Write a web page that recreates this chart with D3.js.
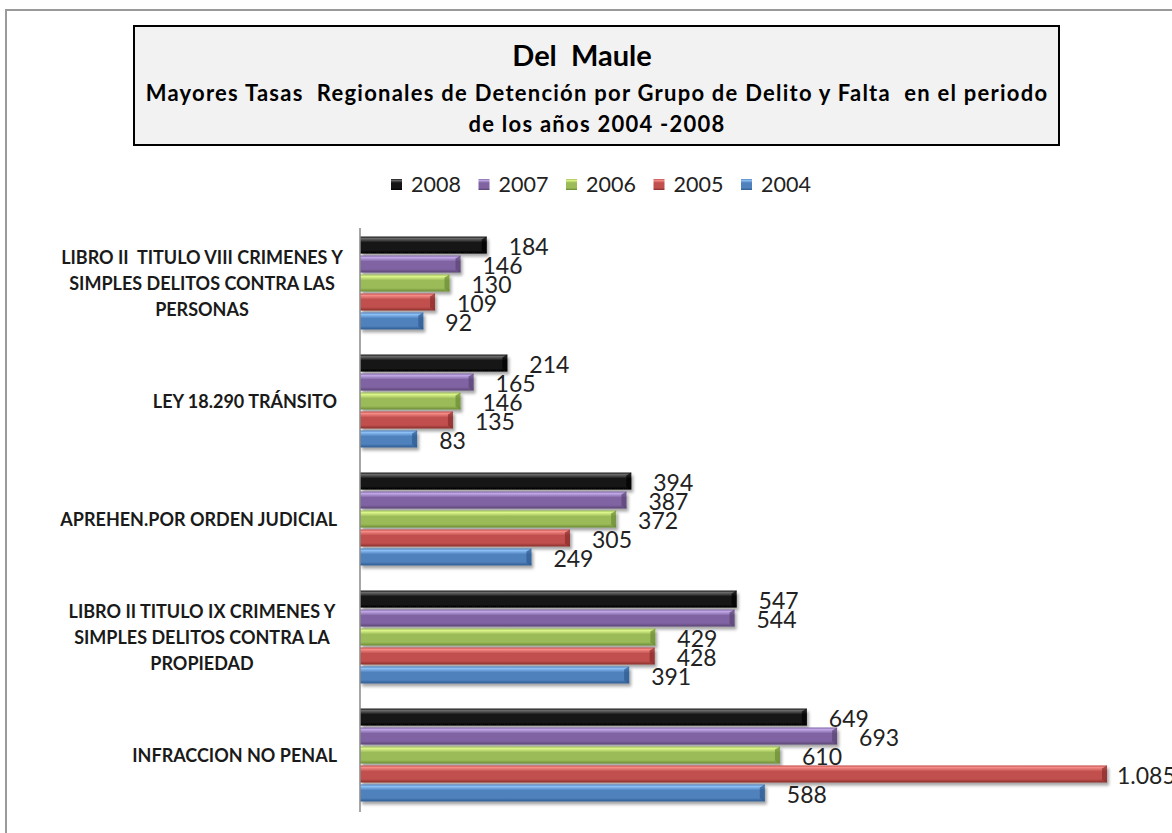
<!DOCTYPE html>
<html>
<head>
<meta charset="utf-8">
<script src="https://cdn.jsdelivr.net/npm/d3@7"></script>
<style>
  body { margin: 0; background: #fff; }
  svg { display: block; }
</style>
</head>
<body>
<div id="chart"></div>
<script>
// 1: DATA
const categories = [
    ["LIBRO II  TITULO VIII CRIMENES Y", "SIMPLES DELITOS CONTRA LAS", "PERSONAS"],
    ["LEY 18.290 TRÁNSITO"],
    ["APREHEN.POR ORDEN JUDICIAL"],
    ["LIBRO II TITULO IX CRIMENES Y", "SIMPLES DELITOS CONTRA LA", "PROPIEDAD"],
    ["INFRACCION NO PENAL"]
];
const years = ["2008", "2007", "2006", "2005", "2004"];
const values2008 = [184, 214, 394, 547, 649];
const values2007 = [146, 165, 387, 544, 693];
const values2006 = [130, 146, 372, 429, 610];
const values2005 = [109, 135, 305, 428, 1085];
const values2004 = [92, 83, 249, 391, 588];
const titleText = "Del  Maule";
const subtitleLines = [
    "Mayores Tasas  Regionales de Detención por Grupo de Delito y Falta  en el periodo",
    "de los años 2004 -2008"
];

const series = [values2008, values2007, values2006, values2005, values2004];
const colors = {
    "2008": { base: "#141414", light: "#6a6a6a", dark: "#000000" },
    "2007": { base: "#8064a2", light: "#c0a8e6", dark: "#5a4474" },
    "2006": { base: "#9bbb59", light: "#dcf58a", dark: "#6a8a34" },
    "2005": { base: "#c0504d", light: "#f58a86", dark: "#8a2e2c" },
    "2004": { base: "#4f81bd", light: "#8cc0f4", dark: "#2e5a8e" }
};

const W = 1172, H = 833;
const svg = d3.select("#chart").append("svg")
    .attr("width", W).attr("height", H)
    .style("font-family", "Lato, 'Open Sans', sans-serif");

const defs = svg.append("defs");
years.forEach(y => {
    const g = defs.append("linearGradient")
        .attr("id", "grad" + y)
        .attr("x1", 0).attr("y1", 0).attr("x2", 0).attr("y2", 1);
    g.append("stop").attr("offset", "0%").attr("stop-color", colors[y].base);
    g.append("stop").attr("offset", "12%").attr("stop-color", colors[y].light);
    g.append("stop").attr("offset", "35%").attr("stop-color", colors[y].base);
    g.append("stop").attr("offset", "80%").attr("stop-color", colors[y].base);
    g.append("stop").attr("offset", "100%").attr("stop-color", colors[y].dark);
});
const shadow = defs.append("filter").attr("id", "shadow")
    .attr("x", "-5%").attr("y", "-30%").attr("width", "115%").attr("height", "180%");
shadow.append("feDropShadow")
    .attr("dx", 2).attr("dy", 3).attr("stdDeviation", 1.5)
    .attr("flood-color", "#000").attr("flood-opacity", 0.35);

// Outer chart border
svg.append("rect")
    .attr("x", 6).attr("y", 10)
    .attr("width", 1300).attr("height", 1000)
    .attr("fill", "none").attr("stroke", "#9a9a9a").attr("stroke-width", 2);

// Title box
svg.append("rect")
    .attr("x", 134).attr("y", 26)
    .attr("width", 925).attr("height", 119)
    .attr("fill", "#f2f2f2").attr("stroke", "#000").attr("stroke-width", 2);

svg.append("text")
    .attr("x", 582).attr("y", 66)
    .attr("text-anchor", "middle")
    .style("font-size", "29px").style("font-weight", "bold")
    .style("white-space", "pre")
    .text(titleText);

svg.selectAll(".subtitle")
    .data(subtitleLines)
    .enter().append("text")
    .attr("class", "subtitle")
    .attr("x", 597)
    .attr("y", (d, i) => 101 + i * 31)
    .attr("text-anchor", "middle")
    .style("font-size", "22px").style("font-weight", "bold")
    .style("letter-spacing", "1.25px")
    .style("white-space", "pre")
    .text(d => d);

// Legend
const legend = svg.append("g").attr("transform", "translate(391,185)");
const legendItem = legend.selectAll("g")
    .data(years)
    .enter().append("g")
    .attr("transform", (d, i) => `translate(${i * 87.5},0)`);
legendItem.append("rect")
    .attr("x", 0).attr("y", -6)
    .attr("width", 11).attr("height", 11)
    .attr("fill", d => `url(#grad${d})`);
legendItem.append("text")
    .attr("x", 20).attr("y", 7)
    .style("font-size", "21.5px")
    .attr("fill", "#222")
    .text(d => d);

// Scales
const x = d3.scaleLinear().domain([0, 1085]).range([360, 1107]);
const y = d3.scaleBand()
    .domain(d3.range(categories.length))
    .range([224, 814])
    .paddingInner(0.18).paddingOuter(0.09);
const ySub = d3.scaleBand()
    .domain(years)
    .range([0, y.bandwidth()])
    .padding(0.1);

const fmt = d3.formatLocale({ decimal: ",", thousands: ".", grouping: [3], currency: ["$", ""] }).format(",d");

// Category labels
const labelRight = 337, wrapCenter = 202;
const catG = svg.selectAll(".cat")
    .data(categories)
    .enter().append("g")
    .attr("class", "cat");
catG.each(function(lines, ci) {
    const cy = y(ci) + y.bandwidth() / 2;
    const n = lines.length;
    d3.select(this).selectAll("text")
        .data(lines)
        .enter().append("text")
        .attr("x", n > 1 ? wrapCenter : labelRight)
        .attr("y", (d, i) => cy + (i - (n - 1) / 2) * 26 + 6.5)
        .attr("text-anchor", n > 1 ? "middle" : "end")
        .style("font-size", "18px")
        .style("font-weight", "bold")
        .style("white-space", "pre")
        .attr("fill", "#1a1a1a")
        .text(d => d);
});

// Bars
const barData = [];
categories.forEach((c, ci) => {
    years.forEach((yr, si) => {
        barData.push({ ci, yr, value: series[si][ci] });
    });
});

const bars = svg.selectAll(".bar")
    .data(barData)
    .enter().append("g")
    .attr("class", "bar");

bars.append("rect")
    .attr("x", x(0))
    .attr("y", d => y(d.ci) + ySub(d.yr))
    .attr("width", d => x(d.value) - x(0))
    .attr("height", ySub.bandwidth())
    .attr("fill", d => `url(#grad${d.yr})`)
    .attr("filter", "url(#shadow)");

// bevelled end cap
bars.append("polygon")
    .attr("points", d => {
        const x1 = x(d.value), y0 = y(d.ci) + ySub(d.yr), y1 = y0 + ySub.bandwidth();
        return [[x1 - 5, y0 + 3], [x1, y0], [x1, y1], [x1 - 5, y1 - 3]].map(p => p.join(",")).join(" ");
    })
    .attr("fill", d => colors[d.yr].dark)
    .attr("opacity", 0.7);

bars.append("text")
    .attr("x", d => Math.min(x(d.value) + 22, 1117))
    .attr("y", d => y(d.ci) + ySub(d.yr) + ySub.bandwidth() / 2 + 10)
    .style("font-size", "23px")
    .attr("fill", "#222")
    .text(d => fmt(d.value));

// Vertical axis line
svg.append("line")
    .attr("x1", x(0)).attr("x2", x(0))
    .attr("y1", 228).attr("y2", 812)
    .attr("stroke", "#8a8a8a").attr("stroke-width", 1.5);
</script>
</body>
</html>
